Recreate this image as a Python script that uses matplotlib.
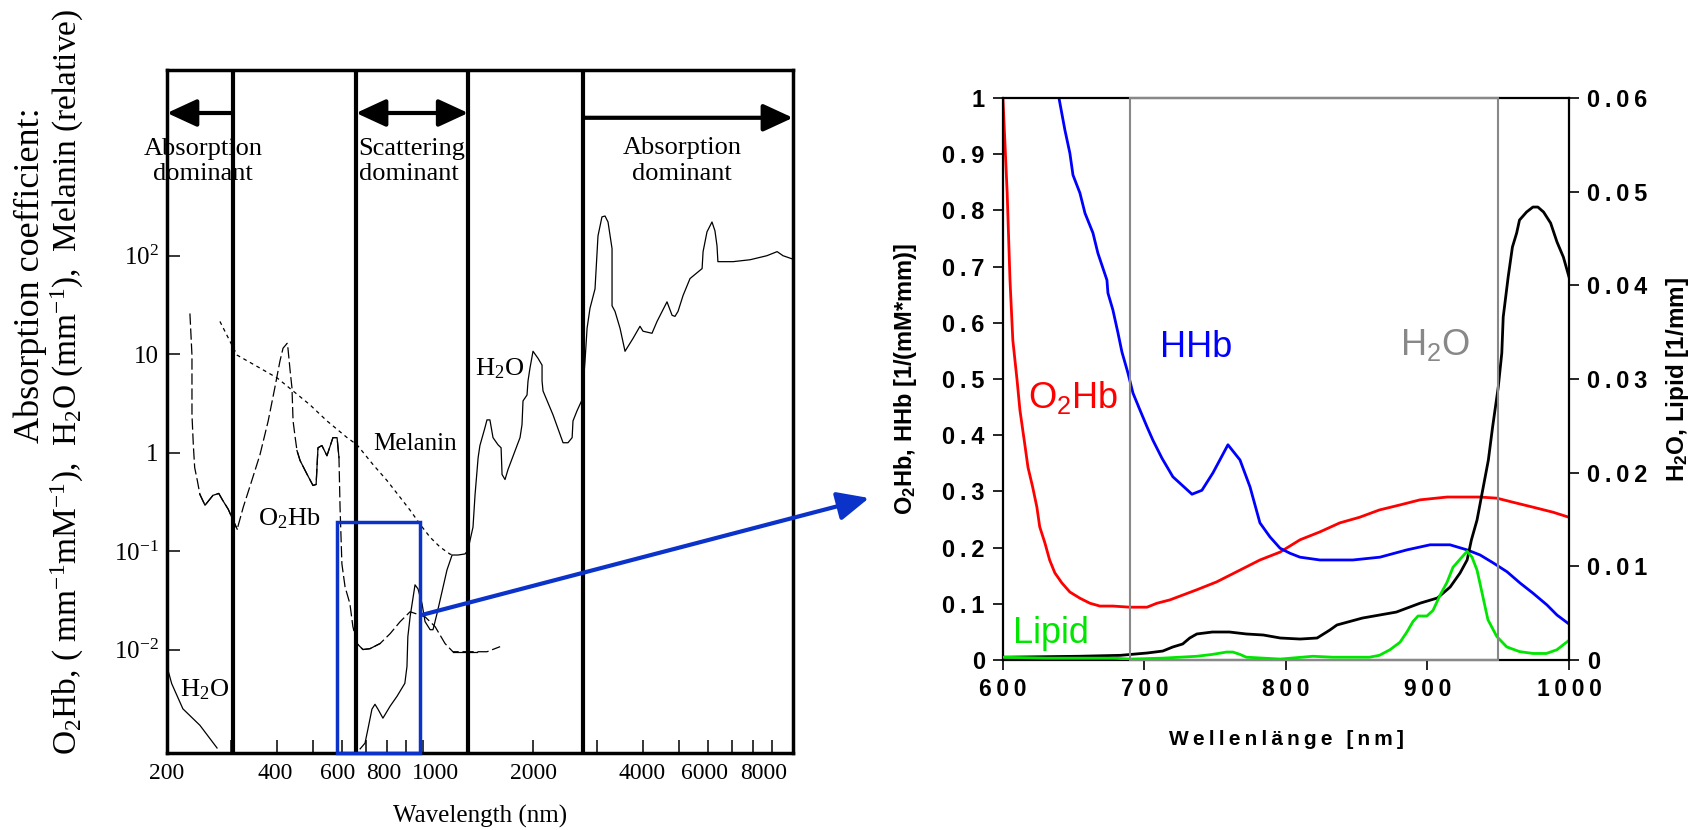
import matplotlib.pyplot as plt
from matplotlib.patches import Rectangle
from matplotlib.ticker import NullFormatter, NullLocator

plt.rcParams['mathtext.default'] = 'regular'

serif = 'Liberation Serif'
sans = ['Liberation Sans', 'DejaVu Sans']

# ---- left panel: overview absorption spectra (log-log)
h2o_uv_wl = [200, 206, 221, 246, 274]
h2o_uv_val = [0.0067, 0.0045, 0.0025, 0.0017, 0.001]

water_wl = [674, 695, 708, 726, 740, 754, 778, 814, 850, 893,
            905, 910, 923, 952, 970, 995, 1014, 1047, 1066, 1093,
            1164, 1202, 1247, 1304, 1328, 1346, 1371, 1389, 1416, 1432,
            1478, 1497, 1525, 1555, 1605, 1636, 1646, 1677, 1709, 1843,
            1866, 1878, 1926, 1938, 1962, 2000, 2063, 2117, 2117, 2130,
            2268, 2416, 2492, 2558, 2572, 2638, 2722, 2774, 2810, 2862,
            2954, 3010, 3086, 3146, 3206, 3288, 3288, 3350, 3458, 3568,
            3754, 3920, 3996, 4228, 4364, 4646, 4798, 4886, 4980, 5140,
            5370, 5794, 5830, 5976, 6166, 6282, 6364, 6400, 7040, 7836,
            8710, 9290, 9640, 10200]
water_val = [0.00098, 0.00112, 0.00156, 0.00248, 0.00278, 0.00248, 0.00201, 0.00266, 0.00335, 0.00454,
             0.00673, 0.0135, 0.0215, 0.0454, 0.0413, 0.0292, 0.0192, 0.0159, 0.0159, 0.0231,
             0.0643, 0.0912, 0.0912, 0.0935, 0.102, 0.129, 0.175, 0.376, 0.89, 1.18,
             1.79, 2.15, 2.15, 1.42, 1.20, 1.12, 0.60, 0.533, 0.674, 1.42,
             1.92, 3.35, 3.85, 5.34, 7.22, 10.7, 9.1, 7.74, 5.34, 4.23,
             2.42, 1.26, 1.26, 1.42, 2.10, 2.66, 3.43, 8.5, 18.3, 29.2,
             46, 159, 248, 253, 220, 118, 31, 27.2, 18.3, 10.7,
             14.5, 19.2, 17.1, 16.3, 21.5, 34, 24.8, 24.2, 27.2, 39.4,
             58.6, 74, 110, 175, 220, 179, 126, 87, 87, 91,
             100, 110, 100, 93]

o2hb_wl = [231, 234, 234, 236, 238, 242, 246, 254, 267, 277,
           284, 294, 303, 311, 323, 341, 359, 378, 394, 407,
           415, 426, 428, 434, 439, 442, 448, 453, 462, 483,
           501, 511, 517, 530, 547, 568, 583, 590, 594, 601,
           613, 632, 644, 661, 686, 717, 764, 814, 867, 923,
           1014, 1080, 1150, 1208, 1406, 1497, 1626]
o2hb_val = [25.9, 9.77, 2.42, 1.20, 0.706, 0.521, 0.376, 0.292, 0.368, 0.385,
            0.327, 0.266, 0.206, 0.167, 0.278, 0.521, 0.955, 2.10, 4.54, 8.5,
            11.5, 12.9, 11.5, 6.73, 4.54, 2.10, 1.42, 1.05, 0.83, 0.60,
            0.464, 0.475, 1.12, 1.18, 0.93, 1.42, 1.42, 0.89, 0.278, 0.074,
            0.0433, 0.0292, 0.0171, 0.0115, 0.0100, 0.0102, 0.0115, 0.0145, 0.0192, 0.0242,
            0.0215, 0.0171, 0.0115, 0.0095, 0.0095, 0.0095, 0.0107]
# stretches of the O2Hb trace that look solid in the scan
o2hb_solid = [(246, 311), (453, 590), (661, 764), (1208, 1406)]

melanin_wl = [279, 301, 311, 359, 400, 442, 492, 547, 621, 661,
              731, 798, 867, 923, 983, 1047, 1114, 1187, 1216]
melanin_val = [21.5, 12.3, 9.77, 7.22, 5.73, 4.23, 3.05, 2.10, 1.42, 1.20,
               0.756, 0.521, 0.351, 0.26, 0.187, 0.138, 0.110, 0.093, 0.091]

region_edges = [303, 657, 1330, 2740]
left_xticks = [200, 400, 600, 800, 1000, 2000, 4000, 6000, 8000]
left_xticklabels = ['200', '400', '600', '800', '1000', '2000', '4000', '6000', '8000']
# where the scan prints the labels (not exactly under their ticks)
left_xlabel_pos = [200, 394, 586, 783, 1080, 2000, 3970, 5900, 8550]
left_xminor = [300, 500, 700, 900, 3000, 5000, 7000, 9000]
left_yticks = [1e-2, 1e-1, 1, 10, 100]
left_yticklabels = ['$10^{-2}$', '$10^{-1}$', '1', '10', '$10^{2}$']

# zoom box on the left (nm, absorption) and start of the blue arrow
box_wl = [583, 983]
box_top = 0.196
arrow_start = (1000, 0.0226)

# ---- right panel: NIR window 600-1000 nm
o2hb_nir_wl = [600, 603, 605, 607, 610, 612, 615.5, 617.7, 621, 624,
               626, 629.7, 633, 636.7, 641.7, 647.3, 654.4, 661.5, 668.5, 677.7,
               689.7, 701.8, 708.8, 718, 737, 751, 767.5, 781.6, 795.8, 810,
               824, 838, 852, 866, 880.6, 894.7, 913.8, 937, 949, 960,
               974.5, 988.7, 1000]
o2hb_nir_val = [1.0, 0.831, 0.676, 0.569, 0.498, 0.445, 0.383, 0.343, 0.308, 0.272,
                0.237, 0.208, 0.178, 0.155, 0.137, 0.121, 0.110, 0.101, 0.096, 0.096,
                0.094, 0.094, 0.101, 0.107, 0.125, 0.139, 0.160, 0.178, 0.192, 0.214,
                0.228, 0.244, 0.254, 0.267, 0.276, 0.285, 0.290, 0.290, 0.288, 0.281,
                0.272, 0.263, 0.254]

hhb_wl = [639.6, 643.8, 647.3, 649.5, 654.4, 658, 663.6, 667.1, 673.5, 674.2,
          677.7, 681.3, 684.1, 688.3, 691.9, 696.8, 701.8, 706, 712.4, 720.1,
          733.6, 740.6, 748.4, 759, 767.5, 774.6, 781.6, 788.7, 795.8, 802.8,
          809.9, 824, 847.3, 866.4, 885.5, 901.8, 915.9, 927.9, 937.1, 946.3,
          956.2, 965.4, 974.5, 984.4, 991.5, 1000]
hhb_val = [1.0, 0.943, 0.902, 0.863, 0.831, 0.795, 0.760, 0.724, 0.676, 0.653,
           0.623, 0.582, 0.548, 0.511, 0.475, 0.445, 0.415, 0.391, 0.359, 0.326,
           0.295, 0.302, 0.333, 0.383, 0.356, 0.308, 0.244, 0.219, 0.199, 0.190,
           0.183, 0.178, 0.178, 0.183, 0.196, 0.205, 0.205, 0.196, 0.187, 0.173,
           0.157, 0.137, 0.119, 0.098, 0.080, 0.064]

h2o_nir_wl = [600, 654, 683, 702, 713, 720, 727, 732, 737, 748,
              760, 772, 784, 796, 810, 822, 831, 836, 854, 878,
              895, 907, 916, 923, 928, 931, 935, 939, 943, 946,
              950, 952.5, 953.5, 957, 960, 963, 965, 970, 974.5, 978,
              982, 987, 991.5, 996, 1000]
h2o_nir_val = [0.0003, 0.0004, 0.0005, 0.00075, 0.00096, 0.00139, 0.00171, 0.00235, 0.00278, 0.00299,
               0.00299, 0.00278, 0.00267, 0.00235, 0.00224, 0.00235, 0.0032, 0.00374, 0.00448, 0.00512,
               0.00608, 0.00662, 0.00779, 0.00929, 0.01068, 0.01281, 0.01495, 0.01815, 0.02135, 0.02488,
               0.02915, 0.03278, 0.03662, 0.04089, 0.04409, 0.04559, 0.04697, 0.04783, 0.04836, 0.04836,
               0.04783, 0.04665, 0.04463, 0.04302, 0.04089]

lipid_wl = [600, 631, 654, 678, 690, 713, 725, 737, 748, 758,
            762.5, 767.5, 772, 796, 819, 833, 859, 866, 873.5, 880.6,
            885.5, 889.7, 893.3, 899.6, 903.9, 908.8, 913.8, 918, 924.4, 928,
            931.4, 935, 938.5, 942.7, 949, 956, 965, 974.5, 984, 991.5,
            995.7, 1000]
lipid_val = [0.0003, 0.0002, 0.0002, 0.0002, 0.0001, 0.0002, 0.0003, 0.0004, 0.0006, 0.00085,
             0.00085, 0.0006, 0.0003, 0.0001, 0.0004, 0.0003, 0.0003, 0.0005, 0.0011, 0.0019,
             0.0030, 0.0041, 0.0047, 0.0047, 0.0053, 0.0069, 0.0083, 0.0099, 0.0110, 0.0116,
             0.0110, 0.0096, 0.0072, 0.0043, 0.0025, 0.0014, 0.0009, 0.0007, 0.0007, 0.0011,
             0.0016, 0.0021]

window_nm = [690, 950]
right_xticks = [600, 700, 800, 900, 1000]
right_xticklabels = ['600', '700', '800', '900', '1000']
right_yticks = [0, 0.1, 0.2, 0.3, 0.4, 0.5, 0.6, 0.7, 0.8, 0.9, 1.0]
right_yticklabels = ['0', '0.1', '0.2', '0.3', '0.4', '0.5', '0.6', '0.7', '0.8', '0.9', '1']
right_y2ticks = [0, 0.01, 0.02, 0.03, 0.04, 0.05, 0.06]
right_y2ticklabels = ['0', '0.01', '0.02', '0.03', '0.04', '0.05', '0.06']

blue = '#0b33c9'
green = '#00e600'
gray = '#888888'


def spaced(s):
    # the original uses wide letter spacing on the bold labels
    return '\u2009'.join(s)


fig = plt.figure(figsize=(16.99, 8.30), dpi=100)

# ======================= left panel =======================
ax1 = fig.add_axes([0.0983, 0.0928, 0.3684, 0.8229])
ax1.set_xscale('log')
ax1.set_yscale('log')

ax1.plot(h2o_uv_wl, h2o_uv_val, color='k', lw=0.9)
ax1.plot(water_wl, water_val, color='k', lw=0.9)
ax1.plot(o2hb_wl, o2hb_val, color='k', lw=0.9, ls=(0, (9, 3)))
for lo, hi in o2hb_solid:
    seg = [(w, v) for w, v in zip(o2hb_wl, o2hb_val) if lo <= w <= hi]
    ax1.plot([p[0] for p in seg], [p[1] for p in seg], color='k', lw=0.9)
ax1.plot(melanin_wl, melanin_val, color='k', lw=0.9, ls=(0, (3, 3)))

for edge in region_edges:
    ax1.axvline(edge, color='k', lw=3, zorder=2.5)

ax1.set_xlim(200, 10260)
ax1.set_ylim(8.9e-4, 7.7e3)

ax1.set_xticks(left_xticks)
ax1.set_xticklabels([])
ax1.set_xticks(left_xminor, minor=True)
ax1.xaxis.set_minor_formatter(NullFormatter())
ax1.set_yticks(left_yticks)
ax1.set_yticklabels(left_yticklabels, fontfamily=serif, fontsize=18)
ax1.yaxis.set_minor_locator(NullLocator())
ax1.tick_params(which='both', direction='in', length=9.5, width=1.1, top=False, right=False, pad=6)
for sp in ax1.spines.values():
    sp.set_linewidth(2.5)

xtrans = ax1.get_xaxis_transform()
for pos, lab in zip(left_xlabel_pos, left_xticklabels):
    ax1.text(pos, -0.0146, lab, transform=xtrans, ha='center', va='top', fontfamily=serif, fontsize=17)

ax1.set_xlabel('Wavelength (nm)', fontfamily=serif, fontsize=18)
ax1.xaxis.set_label_coords(0.5, -0.076)

# region arrows
head = '-|>,head_length=1.3,head_width=0.6'
ax1.annotate('', xy=(200, 0.937), xycoords=('data', 'axes fraction'),
             xytext=(region_edges[0], 0.937), textcoords=('data', 'axes fraction'),
             arrowprops=dict(arrowstyle=head, lw=3, color='k', mutation_scale=14, shrinkA=0, shrinkB=0))
ax1.annotate('', xy=(region_edges[1], 0.937), xycoords=('data', 'axes fraction'),
             xytext=(region_edges[2], 0.937), textcoords=('data', 'axes fraction'),
             arrowprops=dict(arrowstyle='<|-|>,head_length=1.3,head_width=0.6', lw=3, color='k',
                             mutation_scale=14, shrinkA=0, shrinkB=0))
ax1.annotate('', xy=(10260, 0.930), xycoords=('data', 'axes fraction'),
             xytext=(region_edges[3], 0.930), textcoords=('data', 'axes fraction'),
             arrowprops=dict(arrowstyle=head, lw=3, color='k', mutation_scale=14, shrinkA=0, shrinkB=0))

ax1.text(251, 0.866, 'Absorption\ndominant', transform=xtrans, ha='center', va='center',
         fontfamily=serif, fontsize=19, zorder=1)
ax1.text(668, 0.866, 'Scattering\ndominant', transform=xtrans, ha='left', va='center',
         fontfamily=serif, fontsize=19, zorder=1)
ax1.text(5106, 0.867, 'Absorption\ndominant', transform=xtrans, ha='center', va='center',
         fontfamily=serif, fontsize=19, zorder=1)

ax1.text(217, 0.00335, 'H$_2$O', fontfamily=serif, fontsize=19, va='baseline')
ax1.text(1389, 6.14, 'H$_2$O', fontfamily=serif, fontsize=19, va='baseline')
ax1.text(731, 1.07, 'Melanin', fontfamily=serif, fontsize=18, va='baseline')
ax1.text(355, 0.183, 'O$_2$Hb', fontfamily=serif, fontsize=19, va='baseline',
         bbox=dict(fc='white', ec='none', pad=1))

# blue zoom box and connecting arrow
ax1.add_patch(Rectangle((box_wl[0], 8.9e-4), box_wl[1] - box_wl[0], box_top - 8.9e-4,
                        fill=False, ec=blue, lw=2.5, zorder=3, clip_on=False))
ax1.annotate('', xy=(0.5115, 0.400), xycoords='figure fraction',
             xytext=arrow_start, textcoords='data', annotation_clip=False,
             arrowprops=dict(arrowstyle='-|>,head_length=1.2,head_width=0.55', lw=3, color=blue,
                             mutation_scale=16, shrinkA=0, shrinkB=0))

fig.text(0.0177, 0.6687, 'Absorption coefficient:', rotation=90, ha='center', va='center',
         fontfamily=serif, fontsize=26)
fig.text(0.0400, 0.5398, 'O$_2$Hb, ( mm$^{-1}$mM$^{-1}$),  H$_2$O (mm$^{-1}$),  Melanin (relative)',
         rotation=90, ha='center', va='center', fontfamily=serif, fontsize=24)

# ======================= right panel =======================
ax2 = fig.add_axes([0.5903, 0.2048, 0.3332, 0.6771])
ax3 = ax2.twinx()

ax2.plot(o2hb_nir_wl, o2hb_nir_val, color='#ff0000', lw=2)
ax2.plot(hhb_wl, hhb_val, color='#0000ff', lw=2)
ax3.plot(h2o_nir_wl, h2o_nir_val, color='k', lw=2)
ax3.plot(lipid_wl, lipid_val, color=green, lw=2)

ax2.set_xlim(600, 1000)
ax2.set_ylim(0, 1)
ax3.set_ylim(0, 0.06)

ax2.set_xticks(right_xticks)
ax2.set_xticklabels([spaced(t) for t in right_xticklabels], fontfamily=sans, fontweight='bold', fontsize=16.5)
ax2.set_yticks(right_yticks)
ax2.set_yticklabels([spaced(t) for t in right_yticklabels], fontfamily=sans, fontweight='bold', fontsize=17)
ax3.set_yticks(right_y2ticks)
ax3.set_yticklabels([spaced(t) for t in right_y2ticklabels], fontfamily=sans, fontweight='bold', fontsize=17)
ax2.tick_params(direction='out', length=7, width=1.2, pad=6)
ax3.tick_params(direction='out', length=7, width=1.2, pad=6)

for name in ['top', 'bottom', 'left']:
    ax3.spines[name].set_visible(False)
ax2.spines['right'].set_visible(False)
for sp in list(ax2.spines.values()) + [ax3.spines['right']]:
    sp.set_linewidth(1.6)

# gray window marking 690-950 nm, drawn over the frame
ax3.add_patch(Rectangle((window_nm[0], 0), window_nm[1] - window_nm[0], 1,
                        transform=ax3.get_xaxis_transform(), fill=False, ec=gray, lw=1.5,
                        zorder=3, clip_on=False))

ax2.text(711, 0.539, 'HHb', color='#0000ff', fontfamily=sans, fontsize=26, va='baseline')
ax2.text(618, 0.448, 'O$_2$Hb', color='#ff0000', fontfamily=sans, fontsize=26, va='baseline')
ax2.text(880.6, 0.543, 'H$_2$O', color=gray, fontfamily=sans, fontsize=26, va='baseline')
ax2.text(607, 0.030, 'Lipid', color=green, fontfamily=sans, fontsize=26, va='baseline')

ax2.set_xlabel(spaced('Wellenlänge [nm]'), fontfamily=sans, fontweight='bold', fontsize=15)
ax2.xaxis.set_label_coords(0.5, -0.125)
fig.text(0.5327, 0.5434, 'O$_2$Hb, HHb [1/(mM*mm)]', rotation=90, ha='center', va='center',
         fontfamily=sans, fontweight='bold', fontsize=17)
fig.text(0.9876, 0.5422, 'H$_2$O, Lipid [1/mm]', rotation=90, ha='center', va='center',
         fontfamily=sans, fontweight='bold', fontsize=17.5)

fig.savefig('out.png', dpi=100)
